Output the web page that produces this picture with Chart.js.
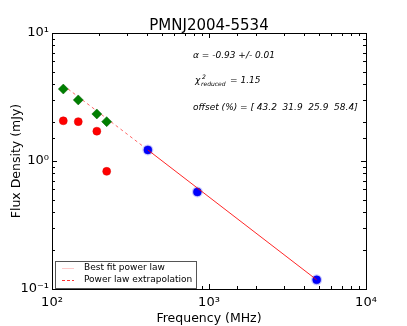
<!DOCTYPE html>
<html>
<head>
<meta charset="utf-8">
<script src="https://cdn.jsdelivr.net/npm/chart.js@4.4.1/dist/chart.umd.min.js"></script>
<style>
html, body { margin: 0; padding: 0; background: #fff; }
#wrap { width: 407px; height: 326px; }
</style>
</head>
<body>
<div id="wrap"><canvas id="sedChart" width="407" height="326"></canvas></div>
<script>
const sourceName = 'PMNJ2004-5534';
// low frequency points (corrected = green diamonds, raw = red circles)
const lowFreqs = [118, 147, 193, 223];
const fluxCorrected = [3.65, 3.0, 2.33, 2.03];
const fluxRaw = [2.06, 2.03, 1.71, 0.83];
// catalogue points (blue)
const catFreqs = [408, 843, 4850];
const catFlux = [1.22, 0.573, 0.118];
const catFluxErr = [0.07, 0.02, 0.005];
// power law lines
const fitFreqs = [408, 4850];
const fitFlux = [1.22, 0.118];
const extrapFreqs = [118, 408];
const extrapFlux = [3.9, 1.22];
const alphaText = 'α = -0.93 +/- 0.01';
const chiValue = '1.15';
const offsets = ['43.2', '31.9', '25.9', '58.4'];

Chart.defaults.font.family = "'DejaVu Sans', sans-serif";
Chart.defaults.color = '#000';

const supers = { '-': '⁻', '0': '⁰', '1': '¹', '2': '²', '3': '³', '4': '⁴' };
function powLabel(v) {
    const e = Math.round(Math.log10(v));
    if (Math.abs(Math.log10(v) - e) > 1e-6) return '';
    return '10' + String(e).split('').map(c => supers[c]).join('');
}
function pts(xs, ys) { return xs.map((x, i) => ({ x: x, y: ys[i] })); }
function isDecade(v) { return Math.abs(Math.log10(v) - Math.round(Math.log10(v))) < 1e-6; }

// matplotlib style frame, inward ticks, title, annotations, legend
const mplFrame = {
    id: 'mplFrame',
    beforeDatasetsDraw(chart) {
        // error bars + halo behind the catalogue points
        const ctx = chart.ctx;
        const xs = chart.scales.x, ys = chart.scales.y;
        ctx.save();
        ctx.strokeStyle = 'rgba(0,0,255,0.45)';
        ctx.fillStyle = 'rgba(80,80,255,0.3)';
        ctx.lineWidth = 1.5;
        catFreqs.forEach((f, i) => {
            const px = xs.getPixelForValue(f);
            ctx.beginPath();
            ctx.moveTo(px, ys.getPixelForValue(catFlux[i] + catFluxErr[i]));
            ctx.lineTo(px, ys.getPixelForValue(catFlux[i] - catFluxErr[i]));
            ctx.stroke();
            ctx.beginPath();
            ctx.arc(px, ys.getPixelForValue(catFlux[i]), 5.5, 0, Math.PI * 2);
            ctx.fill();
        });
        ctx.restore();
    },
    afterDatasetsDraw(chart) {
        const ctx = chart.ctx;
        const a = chart.chartArea;
        const xs = chart.scales.x, ys = chart.scales.y;
        ctx.save();

        ctx.strokeStyle = '#000';
        ctx.lineWidth = 1;
        ctx.strokeRect(Math.round(a.left) + 0.5, Math.round(a.top) + 0.5,
            Math.round(a.right - a.left), Math.round(a.bottom - a.top));

        ctx.beginPath();
        xs.ticks.forEach(t => {
            if (t.value < xs.min || t.value > xs.max) return;
            const px = Math.round(xs.getPixelForValue(t.value)) + 0.5;
            const len = isDecade(t.value) ? 5 : 3;
            ctx.moveTo(px, a.bottom); ctx.lineTo(px, a.bottom - len);
            ctx.moveTo(px, a.top); ctx.lineTo(px, a.top + len);
        });
        ys.ticks.forEach(t => {
            if (t.value < ys.min || t.value > ys.max) return;
            const py = Math.round(ys.getPixelForValue(t.value)) + 0.5;
            const len = isDecade(t.value) ? 5 : 3;
            ctx.moveTo(a.left, py); ctx.lineTo(a.left + len, py);
            ctx.moveTo(a.right, py); ctx.lineTo(a.right - len, py);
        });
        ctx.stroke();

        // title
        ctx.fillStyle = '#000';
        ctx.font = "15px 'DejaVu Sans'";
        ctx.textAlign = 'center';
        ctx.textBaseline = 'alphabetic';
        ctx.fillText(sourceName, (a.left + a.right) / 2, a.top - 3);

        // fit annotations
        const tx = a.left + 141;
        ctx.textAlign = 'left';
        ctx.textBaseline = 'middle';
        ctx.font = "italic 9px 'DejaVu Sans'";
        ctx.fillText(alphaText, tx, a.top + 23);
        ctx.fillText('χ', tx + 2, a.top + 48);
        ctx.font = "italic 6px 'DejaVu Sans'";
        ctx.fillText('2', tx + 9, a.top + 44);
        ctx.fillText('reduced', tx + 8, a.top + 51);
        ctx.font = "italic 9px 'DejaVu Sans'";
        ctx.fillText('= ' + chiValue, tx + 37, a.top + 48);
        ctx.fillText('offset (%) = [ ' + offsets.join('  ') + ']', tx, a.top + 75);

        // legend
        const lx = a.left + 3, ly = a.bottom - 28;
        ctx.fillStyle = '#fff';
        ctx.fillRect(lx, ly, 141, 27);
        ctx.strokeStyle = '#555';
        ctx.strokeRect(lx + 0.5, ly + 0.5, 141, 27);
        ctx.lineWidth = 1;
        ctx.strokeStyle = 'rgba(255,0,0,0.2)';
        ctx.beginPath(); ctx.moveTo(lx + 7, ly + 7.5); ctx.lineTo(lx + 19, ly + 7.5); ctx.stroke();
        ctx.strokeStyle = 'rgba(255,0,0,0.8)';
        ctx.setLineDash([3, 2]);
        ctx.beginPath(); ctx.moveTo(lx + 7, ly + 19.5); ctx.lineTo(lx + 19, ly + 19.5); ctx.stroke();
        ctx.setLineDash([]);
        ctx.fillStyle = '#000';
        ctx.font = "9px 'DejaVu Sans'";
        ctx.fillText('Best fit power law', lx + 29, ly + 7);
        ctx.fillText('Power law extrapolation', lx + 29, ly + 19);
        ctx.restore();
    }
};

new Chart(document.getElementById('sedChart'), {
    type: 'scatter',
    data: {
        datasets: [
            {
                label: 'corrected', data: pts(lowFreqs, fluxCorrected), order: 1,
                pointStyle: 'rectRot', pointRadius: 5, backgroundColor: '#007f00', borderColor: '#006000', borderWidth: 0.5
            },
            {
                label: 'raw', data: pts(lowFreqs, fluxRaw), order: 2,
                pointStyle: 'circle', pointRadius: 4, backgroundColor: '#ff0000', borderColor: '#dd0000', borderWidth: 0.5
            },
            {
                label: 'catalogue', data: pts(catFreqs, catFlux), order: 4,
                pointStyle: 'circle', pointRadius: 4, backgroundColor: '#0000ff', borderColor: '#0000dd', borderWidth: 0.5
            },
            {
                label: 'Best fit power law', data: pts(fitFreqs, fitFlux), order: 3,
                showLine: true, pointRadius: 0, borderColor: 'rgba(255,0,0,0.85)', borderWidth: 1
            },
            {
                label: 'Power law extrapolation', data: pts(extrapFreqs, extrapFlux), order: 5,
                showLine: true, pointRadius: 0, borderColor: 'rgba(255,0,0,0.6)', borderWidth: 1, borderDash: [3, 3]
            }
        ]
    },
    options: {
        responsive: false,
        animation: false,
        devicePixelRatio: 1,
        layout: { padding: { top: 33, right: 41, left: 0, bottom: 0 } },
        plugins: { legend: { display: false }, tooltip: { enabled: false } },
        scales: {
            x: {
                type: 'logarithmic', min: 100, max: 10000,
                grid: { display: false, drawTicks: false }, border: { display: false },
                afterFit: s => { s.height = 37; },
                ticks: { autoSkip: false, maxRotation: 0, padding: 6, font: { size: 13 }, callback: v => powLabel(v) },
                title: { display: true, text: 'Frequency (MHz)', font: { size: 12.5 }, padding: { top: 0, bottom: 0 } }
            },
            y: {
                type: 'logarithmic', min: 0.1, max: 10,
                grid: { display: false, drawTicks: false }, border: { display: false },
                afterFit: s => { s.width = 52; },
                ticks: { autoSkip: false, padding: 3, font: { size: 13 }, callback: v => powLabel(v) },
                title: { display: true, text: 'Flux Density (mJy)', font: { size: 12.5 }, padding: { top: 9, bottom: 0 } }
            }
        }
    },
    plugins: [mplFrame]
});
</script>
</body>
</html>
